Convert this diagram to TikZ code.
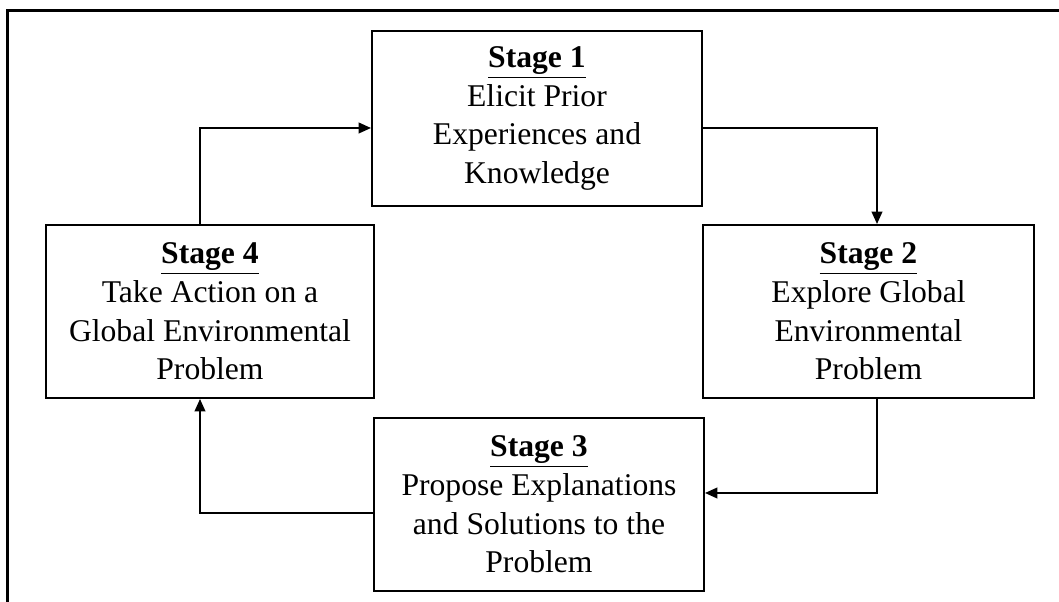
\documentclass[tikz,border=0pt]{standalone}
\usepackage{fontspec}
\setmainfont{Liberation Serif}
\usetikzlibrary{positioning,arrows.meta,calc}

\begin{document}
\begin{tikzpicture}[
  font=\fontsize{18}{22}\selectfont,
  >={Triangle[length=7pt,width=6pt]},
  stagebox/.style={draw, line width=1.1pt, align=center, inner sep=2pt, minimum height=3.46cm},
  arr/.style={->, line width=1.1pt},
  frame/.style={line width=1.3pt},
]
% Page: 21.18 x 12.04 cm; stages run clockwise from the top.
\useasboundingbox (0,0) rectangle (21.18,12.04);
\def\yup{9.48}
\def\xleft{4.0}
\def\xright{17.54}

% --- Frame (top and left edges only) ----------------------------------------
\coordinate (ftl) at (0.15,11.83);
\coordinate (fbl) at (0.15,0);
\coordinate (ftr) at (21.18,11.83);
\draw[frame] (fbl) -- (ftl) -- (ftr);

% --- Stages -----------------------------------------------------------------
\node[stagebox, minimum width=6.6cm, minimum height=3.5cm] (stage1) at (10.74, 9.67)
  {\underline{\textbf{Stage 1}}\\Elicit Prior\\Experiences and\\Knowledge};
\node[stagebox, minimum width=6.62cm] (stage2) at (17.37, 5.81)
  {\underline{\textbf{Stage 2}}\\Explore Global\\Environmental\\Problem};
\node[stagebox, minimum width=6.6cm] (stage3) at (10.78, 1.95)
  {\underline{\textbf{Stage 3}}\\Propose Explanations\\and Solutions to the\\Problem};
\node[stagebox, minimum width=6.56cm] (stage4) at (4.2, 5.81)
  {\underline{\textbf{Stage 4}}\\Take Action on a\\Global Environmental\\Problem};

% --- Connectors -------------------------------------------------------------
\coordinate (c41) at (\xleft, \yup);
\coordinate (c12) at (\xright, \yup);
\coordinate (c23) at (\xright, 2.18);
\coordinate (c34) at (\xleft, 1.78);
\draw[arr] (stage4.north -| c41) -- (c41) -- (c41 -| stage1.west);
\draw[arr] (c12 -| stage1.east) -- (c12) -- (stage2.north -| c12);
\draw[arr] (stage2.south -| c23) -- (c23) -- (c23 -| stage3.east);
\draw[arr] (c34 -| stage3.west) -- (c34) -- (stage4.south -| c34);

\end{tikzpicture}
\end{document}
